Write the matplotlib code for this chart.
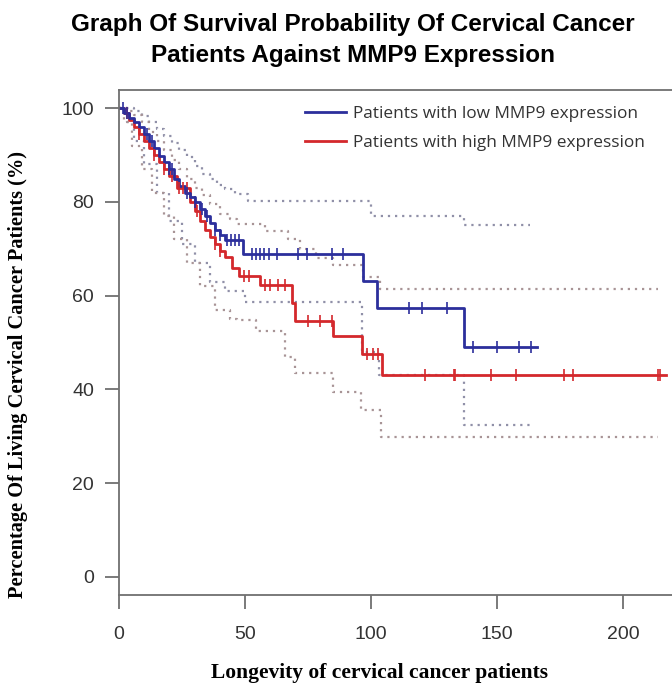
import matplotlib
matplotlib.use('Agg')
import matplotlib.pyplot as plt

# Kaplan-Meier curves (time, survival %), drawn as post steps
low_t = [0, 2, 4, 6, 8, 10, 12, 14, 16, 18, 20, 22, 24, 26, 28, 30, 32, 34, 36, 38, 40, 42, 49, 96.8, 102.4, 137, 166]
low_s = [100, 99, 98, 97, 96, 94.5, 93, 91.5, 89.8, 88.5, 87, 85, 83.5, 82, 81, 80, 78.5, 77, 75.5, 74, 73, 71.8, 68.8, 63.1, 57.3, 49.1, 49.1]
low_cens = [1.5, 3, 11, 13, 20, 21, 27, 30, 33, 35, 38, 40, 43, 44.5, 46, 47.5,
            52.6, 54.5, 56, 57.5, 59.5, 62.5, 71, 74.5, 84.5, 89, 115, 120.4, 130.3,
            140.4, 150.1, 158.6, 163.3]

high_t = [0, 2, 4, 6, 8, 10, 12, 14, 16, 18, 20, 23, 28, 30, 32, 34, 36, 38, 40, 42, 45, 47.8, 55.8, 68.5, 69.7, 85, 96.4, 104.2, 217]
high_s = [100, 99, 97.5, 96, 94.5, 93, 91.5, 90, 88.5, 87, 85.5, 83, 80, 78, 76, 74, 72.5, 71, 69.5, 68.2, 66, 64.1, 62.2, 58.5, 54.6, 51.3, 47.6, 43, 43]
high_cens = [3, 8, 14, 18, 21, 24, 25.5, 27, 31, 38, 40, 49.5, 51.5, 57.8, 59.8, 63, 65.7,
             75, 79.7, 84.5, 98.4, 100.8, 102.8, 121.5, 132.8, 133.5, 147.4, 157.6,
             176.6, 180.3, 213.8, 214.5]

# confidence bands (dotted)
low_up_t = [0, 3, 6, 9, 12, 15, 18, 21, 24, 27, 30, 33, 36, 39, 42, 46, 51, 100, 137, 163]
low_up_s = [100, 100, 99.5, 98.4, 97, 95.6, 94, 92.5, 91, 89.5, 87.7, 86, 84.8, 83.7, 82.8, 81.8, 80.3, 77.1, 75, 75]
low_lo_t = [0, 3, 6, 10, 15, 20, 25, 30, 36, 42, 49.8, 96.5, 103, 137, 163]
low_lo_s = [100, 97, 93, 88, 82, 76, 71, 67, 63, 61, 58.7, 48, 43, 32.3, 32.3]

high_up_t = [0, 3, 6, 9, 12, 15, 18, 21, 24, 27, 30, 33, 36, 40, 44, 47, 58, 67, 72, 78, 85, 97, 103.6, 214]
high_up_s = [100, 99.5, 98.5, 97, 95, 93, 91, 89, 87, 85, 83, 81.5, 79.5, 77.5, 76.3, 75.4, 73.8, 72, 70, 68, 66.5, 64, 61.5, 61.5]
high_lo_t = [0, 2, 5, 9, 13, 18, 22, 27, 32, 38, 44, 47, 54.5, 66, 70, 85, 96, 104, 214]
high_lo_s = [100, 97, 92, 87, 82, 77, 72, 67, 62, 57, 55, 54.7, 52.4, 47, 43.5, 39.4, 35.5, 29.8, 29.8]

labels = ['Patients with low MMP9 expression', 'Patients with high MMP9 expression']
x_ticks = [0, 50, 100, 150, 200]
y_ticks = [0, 20, 40, 60, 80, 100]

blue = '#2c2f9c'
red = '#d4282c'

fig = plt.figure(figsize=(6.72, 6.86), dpi=100)
ax = fig.add_axes([119 / 672, 91 / 686, 553 / 672, 505 / 686])

dot = (0, (1, 2.2))
ax.plot(low_up_t, low_up_s, drawstyle='steps-post', color='#9090a8', lw=1.6, ls=dot)
ax.plot(low_lo_t, low_lo_s, drawstyle='steps-post', color='#9090a8', lw=1.6, ls=dot)
ax.plot(high_up_t, high_up_s, drawstyle='steps-post', color='#a89496', lw=1.6, ls=dot)
ax.plot(high_lo_t, high_lo_s, drawstyle='steps-post', color='#a89496', lw=1.6, ls=dot)

ax.plot(high_t, high_s, drawstyle='steps-post', color=red, lw=2, label=labels[1])
ax.plot(low_t, low_s, drawstyle='steps-post', color=blue, lw=2, label=labels[0])


def surv_at(ts, ss, t):
    val = ss[0]
    for ti, si in zip(ts, ss):
        if ti <= t:
            val = si
    return val


ax.plot(high_cens, [surv_at(high_t, high_s, c) for c in high_cens], ls='none',
        marker='|', ms=9, mew=1.2, color=red)
ax.plot(low_cens, [surv_at(low_t, low_s, c) for c in low_cens], ls='none',
        marker='|', ms=9, mew=1.2, color=blue)

ax.set_xlim(0, 219.4)
ax.set_ylim(-3.9, 103.9)
ax.set_xticks(x_ticks)
ax.set_yticks(y_ticks)
ax.spines['right'].set_visible(False)
for s in ['left', 'bottom', 'top']:
    ax.spines[s].set_color('#707070')
    ax.spines[s].set_linewidth(1.3)
ax.tick_params(axis='both', color='#707070', width=1.3, length=10,
               labelsize=14, labelcolor='#333333')
ax.tick_params(axis='x', pad=12)
ax.tick_params(axis='y', pad=8)
for lab in ax.get_xticklabels() + ax.get_yticklabels():
    lab.set_fontfamily(['Liberation Sans', 'DejaVu Sans'])

h, l = ax.get_legend_handles_labels()
leg = ax.legend(h[::-1], l[::-1], loc='upper left', bbox_to_anchor=(0.336, 0.968),
                frameon=False, handlelength=2.4, handletextpad=0.4, labelspacing=0.72,
                borderpad=0, borderaxespad=0,
                prop={'family': ['Open Sans', 'DejaVu Sans'], 'size': 12.4})
for t in leg.get_texts():
    t.set_color('#333333')

fig.text(0.525, 1 - 13 / 686, 'Graph Of Survival Probability Of Cervical Cancer\nPatients Against MMP9 Expression',
         ha='center', va='top', fontsize=17.5, fontweight='bold', linespacing=1.42,
         family=['Liberation Sans', 'DejaVu Sans'])
fig.text(0.565, 1 - 673 / 686, 'Longevity of cervical cancer patients', ha='center', va='center',
         fontsize=15.5, fontweight='bold', family=['Liberation Serif', 'DejaVu Serif'])
fig.text(18 / 672, 1 - 375 / 686, 'Percentage Of Living Cervical Cancer Patients (%)', ha='center',
         va='center', rotation=90, fontsize=14.7, fontweight='bold',
         family=['Liberation Serif', 'DejaVu Serif'])

fig.savefig('out.png', dpi=100)
